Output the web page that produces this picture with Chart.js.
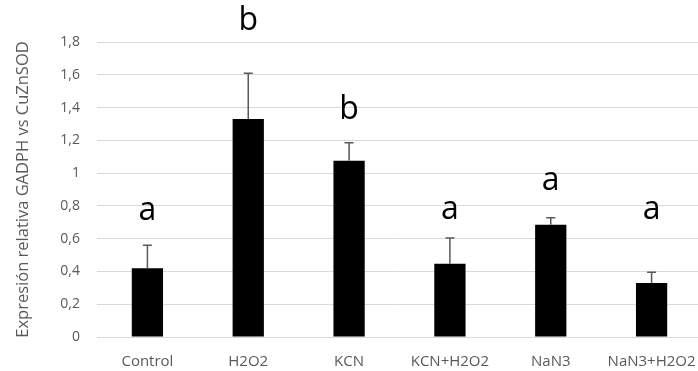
<!DOCTYPE html>
<html>
<head>
<meta charset="utf-8">
<script src="https://cdn.jsdelivr.net/npm/chart.js@4.4.0/dist/chart.umd.min.js"></script>
<style>
  html, body { margin: 0; padding: 0; background: #ffffff; overflow: hidden; }
  #wrap { width: 702px; height: 371px; position: relative; }
</style>
</head>
<body>
<div id="wrap"><canvas id="c"></canvas></div>
<script>
const categories = ['Control', 'H2O2', 'KCN', 'KCN+H2O2', 'NaN3', 'NaN3+H2O2'];
const means = [0.42, 1.33, 1.075, 0.447, 0.685, 0.33];
const errors = [0.14, 0.28, 0.11, 0.157, 0.043, 0.065];
const letters = ['a', 'b', 'b', 'a', 'a', 'a'];
const letterPos = [0.77, 1.93, 1.385, 0.775, 0.955, 0.775];
const yTicks = [0, 0.2, 0.4, 0.6, 0.8, 1, 1.2, 1.4, 1.6, 1.8];

const FONT = "'Open Sans', 'DejaVu Sans', sans-serif";
const GRAY = '#595959';

const annotatePlugin = {
  id: 'annotate',
  afterDatasetsDraw(chart) {
    const ctx = chart.ctx;
    const meta = chart.getDatasetMeta(0);
    const y = chart.scales.y;
    ctx.save();
    ctx.strokeStyle = GRAY;
    ctx.lineWidth = 1.5;
    meta.data.forEach((bar, i) => {
      const x = bar.x;
      const y0 = y.getPixelForValue(means[i]);
      const y1 = y.getPixelForValue(means[i] + errors[i]);
      ctx.beginPath();
      ctx.moveTo(x, y0);
      ctx.lineTo(x, y1);
      ctx.moveTo(x - 4.5, y1);
      ctx.lineTo(x + 4.5, y1);
      ctx.stroke();
    });
    ctx.fillStyle = '#000000';
    ctx.font = "32px " + FONT;
    ctx.textAlign = 'center';
    ctx.textBaseline = 'middle';
    meta.data.forEach((bar, i) => {
      ctx.fillText(letters[i], bar.x, y.getPixelForValue(letterPos[i]));
    });
    ctx.restore();
  }
};

new Chart(document.getElementById('c'), {
  type: 'bar',
  data: {
    labels: categories,
    datasets: [{
      data: means,
      backgroundColor: '#000000',
      borderColor: '#000000',
      borderWidth: 0,
      categoryPercentage: 1,
      barPercentage: 0.31
    }]
  },
  options: {
    responsive: true,
    maintainAspectRatio: false,
    animation: false,
    layout: { padding: { top: 42, bottom: 0, left: 0, right: 0 } },
    plugins: {
      legend: { display: false },
      tooltip: { enabled: false }
    },
    scales: {
      x: {
        afterFit(scale) { scale.height = 34; scale.paddingLeft = 0; scale.paddingRight = 0; },
        grid: { display: false, drawTicks: false },
        border: { display: true, color: '#d9d9d9', width: 1 },
        ticks: {
          color: GRAY,
          font: { family: FONT, size: 15 },
          padding: 16,
          maxRotation: 0,
          autoSkip: false
        }
      },
      y: {
        min: 0,
        max: 1.8,
        afterBuildTicks(scale) {
          scale.ticks = yTicks.map(v => ({ value: v }));
        },
        afterFit(scale) { scale.width = 97; },
        grid: { color: '#d9d9d9', lineWidth: 1, drawTicks: false },
        border: { display: false },
        ticks: {
          color: GRAY,
          font: { family: FONT, size: 14 },
          padding: 17,
          callback: v => String(Math.round(v * 10) / 10).replace('.', ',')
        },
        title: {
          display: true,
          text: 'Expresión relativa GADPH vs CuZnSOD',
          color: GRAY,
          font: { family: FONT, size: 16.5 },
          padding: { top: 13, bottom: 0 }
        }
      }
    }
  },
  plugins: [annotatePlugin]
});
</script>
</body>
</html>
